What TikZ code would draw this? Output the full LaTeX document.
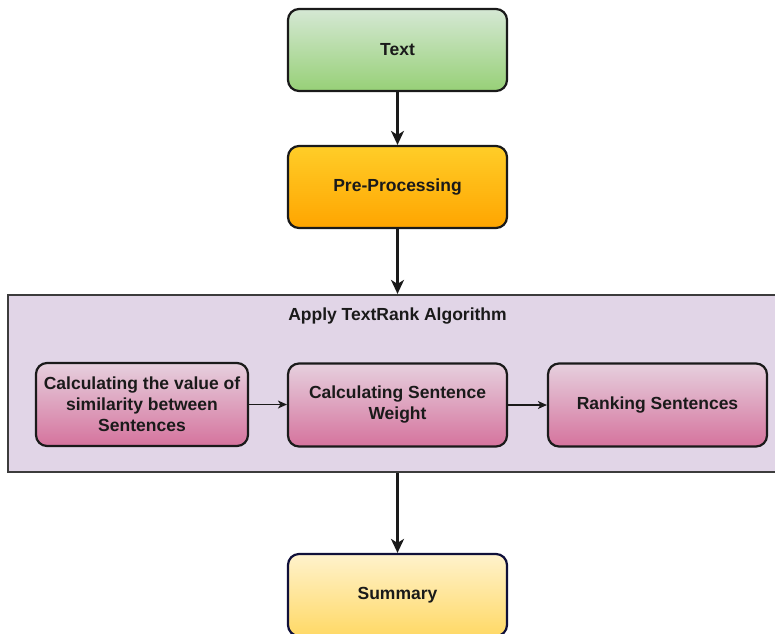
\documentclass[tikz,border=0pt]{standalone}
\usepackage{fontspec}
\setmainfont{Liberation Sans}
\usetikzlibrary{arrows.meta}
\definecolor{greenTop}{HTML}{D5E8D4}
\definecolor{greenBot}{HTML}{97D077}
\definecolor{orangeTop}{HTML}{FFCD28}
\definecolor{orangeBot}{HTML}{FFA500}
\definecolor{pinkTop}{HTML}{E6D0DE}
\definecolor{pinkBot}{HTML}{D5739D}
\definecolor{yellowTop}{HTML}{FFF2CC}
\definecolor{yellowBot}{HTML}{FFD966}
\definecolor{lilac}{HTML}{E1D5E7}
\definecolor{navy}{HTML}{10103A}
\definecolor{ink}{HTML}{1A1A1A}
\tikzset{
  label font/.style={font=\fontsize{17.5}{21}\selectfont\bfseries, text=ink},
  stage/.style={draw=ink, line width=2.2pt, rounded corners=11pt,
    minimum width=219pt, minimum height=82pt, align=center, inner sep=2pt,
    label font},
  substage/.style={stage, top color=pinkTop, bottom color=pinkBot},
  flow/.style={line width=2.4pt, draw=ink, -{Stealth[length=14pt,width=13pt,inset=4pt]}},
  thinflow/.style={line width=1.2pt, draw=ink, -{Stealth[length=9pt,width=8pt,inset=2.5pt]}},
}
\begin{document}
\begin{tikzpicture}[x=1pt, y=-1pt]
  \useasboundingbox (0,0) rectangle (775,633);
  \clip (0,0) rectangle (775,633);

  % main pipeline
  \node[stage, top color=greenTop, bottom color=greenBot] (text) at (397.5,50) {Text};
  \node[stage, top color=orangeTop, bottom color=orangeBot] (pre) at (397.5,187) {Pre-Processing};

  % TextRank container
  \node[draw=ink!85, line width=2.2pt, fill=lilac, minimum width=784pt,
        minimum height=177pt, inner sep=0pt] (algo) at (400,383.5) {};
  \node[label font] (algotitle) at (397.5,316) {Apply TextRank Algorithm};

  \node[substage, minimum width=212pt, minimum height=83pt] (sim) at (142,404.5)
       {Calculating the value of\\ similarity between\\ Sentences};
  \node[substage, minimum height=83pt] (weight) at (397.5,405)
       {Calculating Sentence\\ Weight};
  \node[substage, minimum height=83pt] (rank) at (657.5,405) {Ranking Sentences};

  \node[stage, draw=navy, top color=yellowTop, bottom color=yellowBot] (summary) at (397.5,595) {Summary};

  % connectors
  \draw[flow] (text.south) -- (pre.north);
  \draw[flow] (pre.south) -- (pre.south |- algo.north);
  \draw[flow] (summary.north |- algo.south) -- (summary.north);
  \draw[thinflow] (sim.east) -- (weight.west |- sim.east);
  \draw[thinflow] (weight.east) -- (rank.west);
\end{tikzpicture}
\end{document}
